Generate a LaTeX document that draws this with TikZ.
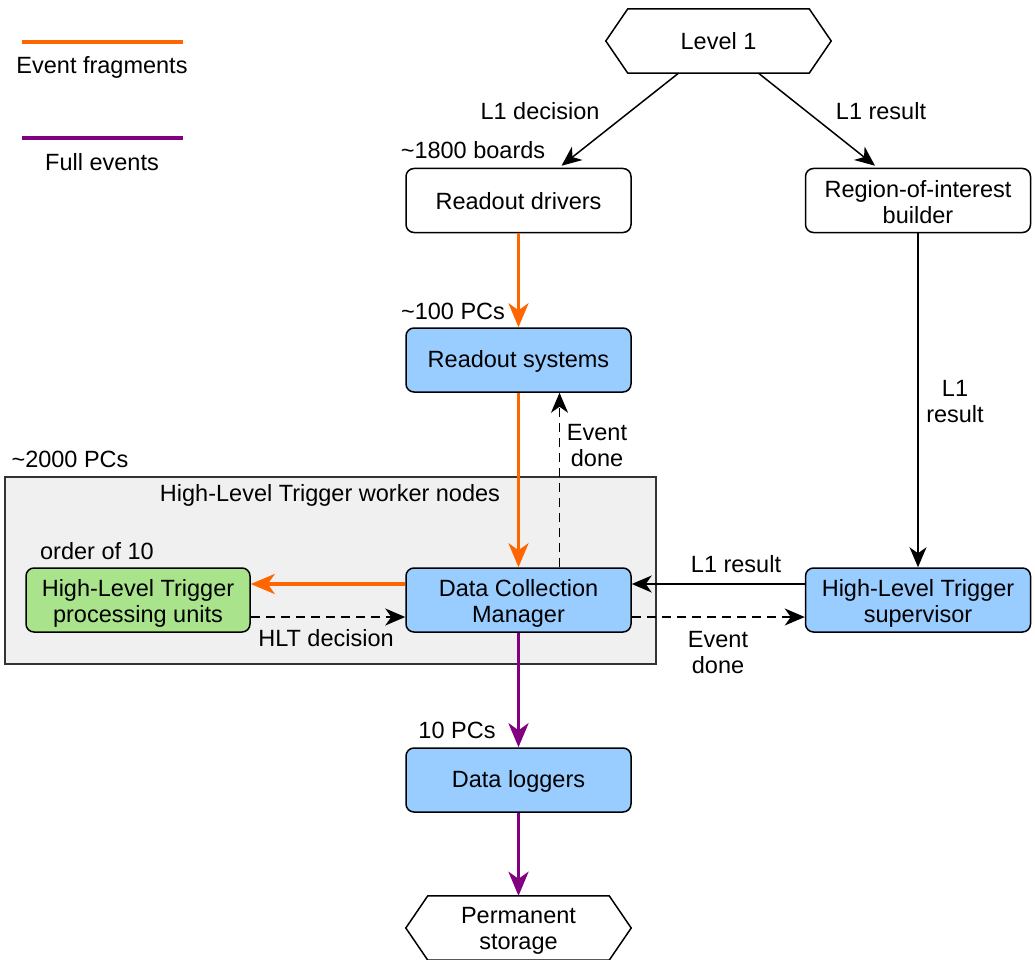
\documentclass[tikz,border=0pt]{standalone}
\usepackage{fontspec}
\setmainfont{Liberation Sans}
\usetikzlibrary{arrows.meta,calc}
\definecolor{fragcol}{HTML}{FF6600}
\definecolor{fullcol}{HTML}{800080}
\definecolor{bluefill}{HTML}{99CCFF}
\definecolor{greenfill}{HTML}{A9E48C}
\definecolor{groupfill}{HTML}{F0F0F0}
\definecolor{groupline}{HTML}{333333}
% invisible strut so every line gets the same ascent and descent
\newcommand{\linestrut}{\rule[-0.1em]{0pt}{0.96em}}
\begin{document}
\begin{tikzpicture}[x=1pt,y=-1pt,
  every node/.style={font=\fontsize{23.5}{26}\selectfont, align=center, inner sep=0pt, text=black,
    execute at begin node=\linestrut, execute at end node=\linestrut},
  twotext/.style={yshift=-3pt},
  plainbox/.style={draw=black, line width=1.5pt, rounded corners=8pt, minimum width=225pt, minimum height=64pt},
  bluebox/.style={plainbox, fill=bluefill},
  greenbox/.style={plainbox, fill=greenfill, minimum width=224pt},
  hexnode/.style={minimum width=225pt, minimum height=64pt},
  thin arrow/.style={draw=black, line width=1.5pt, -{Stealth[length=20pt,width=17pt,inset=6pt]}},
  dash arrow/.style={thin arrow, dash pattern=on 9pt off 6pt},
  frag arrow/.style={draw=fragcol, line width=3.5pt, -{Stealth[length=24pt,width=20pt,inset=7pt]}},
  full arrow/.style={draw=fullcol, line width=3.5pt, -{Stealth[length=24pt,width=20pt,inset=7pt]}},
  legend line/.style={line width=4.5pt}
]
\useasboundingbox (0,0) rectangle (1035,960);

% legend
\coordinate (fragA) at (22,42);
\coordinate (fragB) at (183,42);
\draw[legend line, fragcol] (fragA) -- (fragB);
\node (fraglbl) at (102,66) {Event fragments};
\coordinate (fullA) at (22,138);
\coordinate (fullB) at (183,138);
\draw[legend line, fullcol] (fullA) -- (fullB);
\node (fulllbl) at (102,162) {Full events};

% worker-node group
\draw[fill=groupfill, draw=groupline, line width=1.5pt] (5,477) rectangle (656,664);
\node (grouplbl) at (330,494) {High-Level Trigger worker nodes};
\node (nworkers) at (70,459) {\textasciitilde2000 PCs};
\node (npu) at (97,551) {order of 10};

% hexagonal terminals
\node[hexnode] (lvl) at (718.5,41) {};
\draw[line width=1.5pt, fill=white] (lvl.west) -- ($(lvl.north west)+(22,0)$) -- ($(lvl.north east)+(-22,0)$) -- (lvl.east) -- ($(lvl.south east)+(-22,0)$) -- ($(lvl.south west)+(22,0)$) -- cycle;
\node (lvltext) at (lvl) {Level 1};

\node[hexnode] (perm) at (518.5,928) {};
\draw[line width=1.5pt, fill=white] (perm.west) -- ($(perm.north west)+(22,0)$) -- ($(perm.north east)+(-22,0)$) -- (perm.east) -- ($(perm.south east)+(-22,0)$) -- ($(perm.south west)+(22,0)$) -- cycle;
\node[twotext] (permtext) at (perm) {Permanent\\storage};

% boxes
\node[plainbox] (rod) at (518.5,200.5) {Readout drivers};
\node[plainbox, label={[twotext]center:{Region-of-interest\\builder}}] (roib) at (918,200.5) {};
\node[bluebox] (ros) at (518.5,360) {Readout systems};
\node[greenbox, label={[twotext]center:{High-Level Trigger\\processing units}}] (hltpu) at (138,600) {};
\node[bluebox, label={[twotext]center:{Data Collection\\Manager}}] (dcm) at (518.5,600) {};
\node[bluebox, label={[twotext]center:{High-Level Trigger\\supervisor}}] (hltsv) at (918,600) {};
\node[bluebox] (dlog) at (518.5,780) {Data loggers};

% multiplicity labels
\node (nrod) at (473,150) {\textasciitilde1800 boards};
\node (nros) at (453,311) {\textasciitilde100 PCs};
\node (ndl) at (457,730) {10 PCs};

% Level 1 outputs
\draw[thin arrow] ($(lvl.south)+(-40,0)$) -- ($(rod.north)+(43,-2)$);
\draw[thin arrow] ($(lvl.south)+(40,0)$) -- ($(roib.north)+(-43,-2)$);
\node (l1dec) at (540,111) {L1 decision};
\node (l1res) at (881,111) {L1 result};

% fragment flow
\draw[frag arrow] (rod.south) -- (ros.north);
\draw[frag arrow] (ros.south) -- (dcm.north);
\draw[dash arrow] ($(dcm.north)+(41,0)$) -- ($(ros.south)+(41,0)$);
\node[twotext] (evdone1) at (597,444) {Event\\done};

% RoI path
\draw[thin arrow] (roib.south) -- (hltsv.north);
\node[twotext] (l1res2) at (955,400) {L1\\result};

% supervisor <-> DCM
\draw[thin arrow] ($(hltsv.west)+(0,-16)$) -- ($(dcm.east)+(0,-16)$);
\draw[dash arrow] ($(dcm.east)+(0,17)$) -- ($(hltsv.west)+(0,17)$);
\node (l1res3) at (736,564) {L1 result};
\node[twotext] (evdone2) at (718,651) {Event\\done};

% DCM <-> processing units
\draw[frag arrow] ($(dcm.west)+(0,-16)$) -- ($(hltpu.east)+(0,-16)$);
\draw[dash arrow] ($(hltpu.east)+(0,17)$) -- ($(dcm.west)+(0,17)$);
\node (hltdec) at (326,638) {HLT decision};

% full events
\draw[full arrow] (dcm.south) -- (dlog.north);
\draw[full arrow] (dlog.south) -- (perm.north);
\end{tikzpicture}
\end{document}
